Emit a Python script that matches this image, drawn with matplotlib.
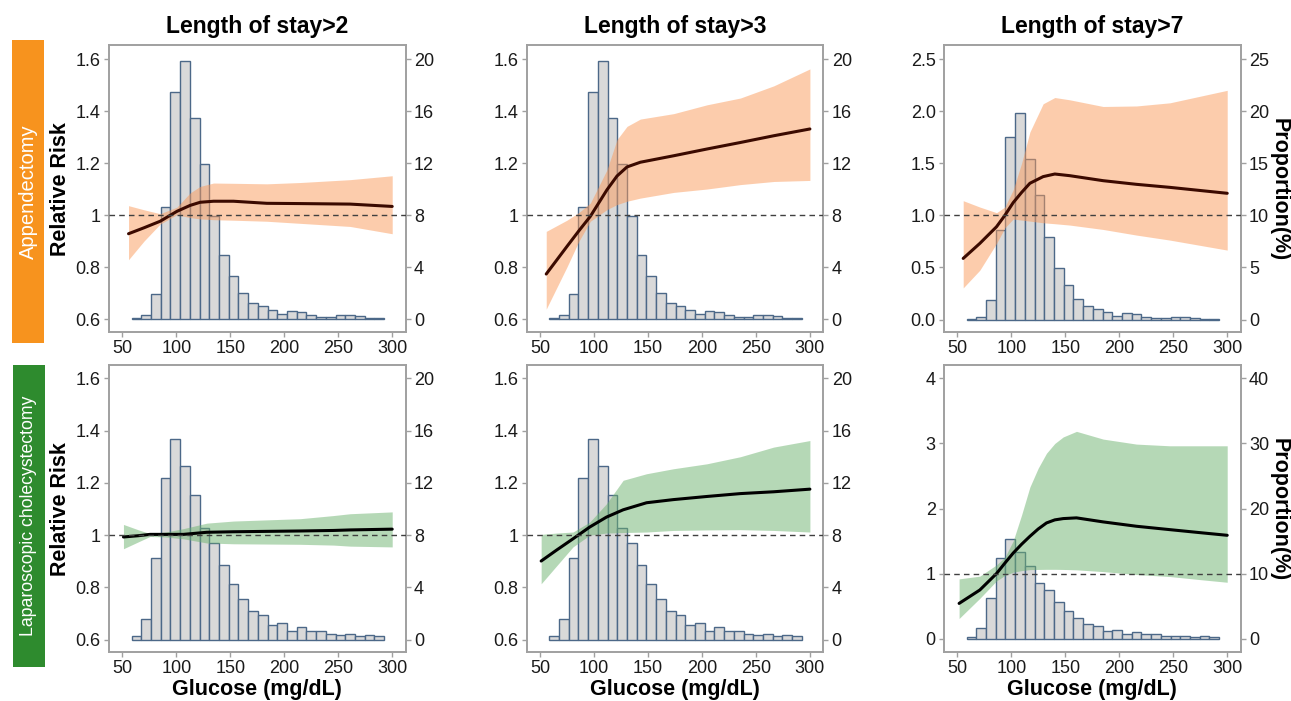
import numpy as np
import matplotlib
matplotlib.use("Agg")
import matplotlib.pyplot as plt
from matplotlib.patches import Rectangle

plt.rcParams['font.family'] = ['Liberation Sans', 'DejaVu Sans']

# ---------------- data ----------------
titles = ["Length of stay>2", "Length of stay>3", "Length of stay>7"]
row_labels = ["Appendectomy", "Laparoscopic cholecystectomy"]

bin_width = 9
bin_left = np.arange(58.5, 292.5, bin_width)   # 26 glucose bins

# proportion (%) per glucose bin
prop_append = [0.08, 0.28, 1.92, 8.62, 17.5, 19.87, 15.44, 11.92, 7.92, 4.95, 3.33, 1.97,
               1.26, 0.97, 0.72, 0.38, 0.64, 0.51, 0.28, 0.15, 0.15, 0.28, 0.28, 0.2, 0.08, 0.08]
prop_chole = [0.31, 1.58, 6.26, 12.36, 15.35, 13.33, 11.11, 8.58, 7.41, 5.7, 4.29, 3.12,
              2.17, 1.92, 1.1, 1.3, 0.69, 0.95, 0.69, 0.69, 0.43, 0.38, 0.43, 0.26, 0.38, 0.31]

# Appendectomy, LOS>2
a2_x = [55.6, 70, 84.9, 100.4, 112.7, 122, 134.4, 152.9, 183.8, 214.7, 261, 300]
a2_rr = [0.928, 0.951, 0.976, 1.014, 1.037, 1.049, 1.053, 1.053, 1.045, 1.044, 1.042, 1.033]
a2_lo = [0.828, 0.900, 0.965, 1.001, 0.990, 0.985, 0.982, 0.980, 0.976, 0.968, 0.956, 0.928]
a2_hi = [1.036, 1.020, 1.005, 1.030, 1.085, 1.110, 1.123, 1.122, 1.120, 1.125, 1.136, 1.151]

# Appendectomy, LOS>3
a3_x = [55.6, 74.8, 86, 96.5, 111.9, 121.2, 130.5, 142.8, 173.8, 204.7, 235.6, 266.6, 300]
a3_rr = [0.773, 0.879, 0.94, 0.995, 1.097, 1.150, 1.185, 1.203, 1.228, 1.254, 1.279, 1.305, 1.331]
a3_lo = [0.638, 0.800, 0.90, 0.976, 1.021, 1.040, 1.053, 1.065, 1.087, 1.100, 1.117, 1.129, 1.133]
a3_hi = [0.937, 0.980, 1.01, 1.046, 1.174, 1.290, 1.341, 1.369, 1.390, 1.424, 1.450, 1.497, 1.562]

# Appendectomy, LOS>7
a7_x = [55.3, 70.7, 86.2, 93.9, 101.6, 109.4, 117.1, 129.4, 140.2, 154.1, 185, 215.9, 246.8, 300]
a7_rr = [0.587, 0.731, 0.891, 1.0, 1.122, 1.22, 1.308, 1.372, 1.397, 1.381, 1.333, 1.298, 1.269, 1.212]
a7_lo = [0.304, 0.474, 0.731, 0.88, 0.965, 0.955, 0.945, 0.929, 0.920, 0.907, 0.865, 0.811, 0.763, 0.667]
a7_hi = [1.141, 1.080, 1.026, 1.08, 1.244, 1.50, 1.80, 2.071, 2.131, 2.109, 2.045, 2.050, 2.080, 2.200]

# Laparoscopic cholecystectomy, LOS>2
c2_x = [50.9, 65, 75.6, 90, 106.5, 128.2, 152.9, 214.7, 245.6, 261, 300]
c2_rr = [0.993, 0.998, 1.003, 1.003, 1.003, 1.011, 1.013, 1.016, 1.018, 1.020, 1.023]
c2_lo = [0.948, 0.975, 0.995, 0.993, 0.986, 0.970, 0.967, 0.965, 0.962, 0.958, 0.955]
c2_hi = [1.041, 1.020, 1.006, 1.012, 1.025, 1.046, 1.054, 1.063, 1.075, 1.082, 1.089]

# Laparoscopic cholecystectomy, LOS>3
c3_x = [50.9, 64.9, 80.4, 95.9, 111.4, 126.9, 148.6, 173.4, 204.5, 235.5, 266.5, 300]
c3_rr = [0.901, 0.942, 0.986, 1.031, 1.069, 1.097, 1.124, 1.136, 1.148, 1.159, 1.166, 1.176]
c3_lo = [0.814, 0.881, 0.955, 1.000, 1.008, 1.010, 1.012, 1.018, 1.020, 1.021, 1.018, 1.012]
c3_hi = [1.003, 1.008, 1.012, 1.050, 1.120, 1.210, 1.235, 1.254, 1.273, 1.300, 1.337, 1.362]

# Laparoscopic cholecystectomy, LOS>7
c7_x = [51.5, 70.7, 86.2, 93.9, 101.6, 109.4, 117.1, 124.8, 132.5, 140.2, 148, 160.3, 185, 215.9, 246.8, 277.7, 300]
c7_rr = [0.541, 0.747, 1.0, 1.16, 1.314, 1.45, 1.572, 1.685, 1.778, 1.825, 1.845, 1.856, 1.794, 1.727, 1.675, 1.624, 1.588]
c7_lo = [0.309, 0.619, 0.887, 0.97, 1.02, 1.045, 1.06, 1.063, 1.065, 1.065, 1.063, 1.057, 1.030, 0.985, 0.954, 0.902, 0.866]
c7_hi = [0.918, 0.960, 1.134, 1.25, 1.50, 1.90, 2.33, 2.62, 2.85, 3.00, 3.10, 3.186, 3.067, 2.990, 2.964, 2.964, 2.964]

curves = [[(a2_x, a2_rr, a2_lo, a2_hi), (a3_x, a3_rr, a3_lo, a3_hi), (a7_x, a7_rr, a7_lo, a7_hi)],
          [(c2_x, c2_rr, c2_lo, c2_hi), (c3_x, c3_rr, c3_lo, c3_hi), (c7_x, c7_rr, c7_lo, c7_hi)]]
props = [prop_append, prop_chole]

# axis scales: (rr ticks, rr tick labels, prop ticks, rr->prop offset, rr->prop factor, rr limits)
rr_ticks_std = [0.6, 0.8, 1.0, 1.2, 1.4, 1.6]
rr_labels_std = ["0.6", "0.8", "1", "1.2", "1.4", "1.6"]
prop_ticks_std = [0, 4, 8, 12, 16, 20]
scales = [
    [(rr_ticks_std, rr_labels_std, prop_ticks_std, 0.6, 20, (0.55, 1.654)),
     (rr_ticks_std, rr_labels_std, prop_ticks_std, 0.6, 20, (0.55, 1.654)),
     ([0, 0.5, 1.0, 1.5, 2.0, 2.5], ["0.0", "0.5", "1.0", "1.5", "2.0", "2.5"],
      [0, 5, 10, 15, 20, 25], 0.0, 10, (-0.119, 2.635))],
    [(rr_ticks_std, rr_labels_std, prop_ticks_std, 0.6, 20, (0.553, 1.651)),
     (rr_ticks_std, rr_labels_std, prop_ticks_std, 0.6, 20, (0.553, 1.651)),
     ([0, 1, 2, 3, 4], ["0", "1", "2", "3", "4"],
      [0, 10, 20, 30, 40], 0.0, 10, (-0.206, 4.206))],
]
x_ticks = [50, 100, 150, 200, 250, 300]

# ---------------- styling ----------------
W, H = 1291, 701
fig = plt.figure(figsize=(W / 100, H / 100), dpi=100)

band_colors = ['#FB9A5A', '#6DB36F']
line_colors = ['#3B0A00', '#000000']
box_colors = ['#F7931E', '#2E8B2E']
frame_col = '#A0A0A0'

panel_lefts = [109, 526.7, 944]
panel_tops = [45, 365]
pw, ph = 296.7, 287

def fx(px):
    return px / W

def fy(py):
    return 1 - py / H

for r in range(2):
    for c in range(3):
        left = panel_lefts[c]
        top = panel_tops[r]
        axp = fig.add_axes([fx(left), fy(top + ph), pw / W, ph / H])
        axr = axp.twinx()
        rticks, rlabels, pticks, off, fac, rlim = scales[r][c]
        # histogram on proportion axis
        axp.bar(bin_left, props[r], width=bin_width, align='edge',
                color='#D9D9D9', edgecolor='#4C6888', linewidth=1.0, zorder=2)
        axp.set_ylim((rlim[0] - off) * fac, (rlim[1] - off) * fac)
        axp.set_yticks(pticks)
        axp.set_yticklabels([str(t) for t in pticks])
        axp.yaxis.set_ticks_position('right')
        axp.yaxis.set_label_position('right')
        # RR curve on the twin axis (drawn above)
        xs, rr, lo, hi = curves[r][c]
        axr.fill_between(xs, lo, hi, color=band_colors[r], alpha=0.5, linewidth=0, zorder=2)
        axr.plot(xs, rr, color=line_colors[r], linewidth=2.2, zorder=3,
                 solid_capstyle='round', solid_joinstyle='round')
        axr.axhline(1.0, color='#404040', linestyle=(0, (4, 3)), linewidth=1.0, zorder=4)
        axr.set_ylim(*rlim)
        axr.set_yticks(rticks)
        axr.set_yticklabels(rlabels)
        axr.yaxis.set_ticks_position('left')
        axr.yaxis.set_label_position('left')
        axp.set_xlim(37.5, 312.5)
        axp.set_xticks(x_ticks)
        axp.set_xticklabels([str(t) for t in x_ticks])
        for a in (axp, axr):
            a.tick_params(axis='both', which='both', labelsize=13, colors=frame_col,
                          labelcolor='#1A1A1A', length=3.5, width=1, pad=2.5)
            for s in a.spines.values():
                s.set_color(frame_col)
                s.set_linewidth(1.2)
        axp.patch.set_visible(True)
        axr.patch.set_visible(False)
        cx = left + pw / 2
        if r == 0:
            fig.text(fx(cx), fy(33), titles[c], ha='center', va='baseline',
                     fontsize=16.5, fontweight='bold')
        else:
            fig.text(fx(cx), fy(690), "Glucose (mg/dL)", ha='center', va='center',
                     fontsize=15.5, fontweight='bold')
        cy = top + ph / 2
        if c == 0:
            fig.text(fx(60), fy(cy + 1), "Relative Risk", rotation=90, ha='center', va='center',
                     fontsize=15.5, fontweight='bold')
        if c == 2:
            fig.text(fx(1279), fy(cy + 1), "Proportion(%)", rotation=270, ha='center', va='center',
                     fontsize=15.5, fontweight='bold')

# side label boxes
boxes = [(12, 40, 32, 303), (13, 365, 32, 302)]
label_sizes = [14.5, 12.7]
for i, (bx, by, bw, bh) in enumerate(boxes):
    fig.patches.append(Rectangle((fx(bx), fy(by + bh)), bw / W, bh / H,
                                 transform=fig.transFigure, facecolor=box_colors[i],
                                 edgecolor='none'))
    fig.text(fx(bx + bw / 2), fy(by + bh / 2), row_labels[i], rotation=90, color='white',
             ha='center', va='center', fontsize=label_sizes[i])

fig.savefig("out.png", dpi=100)
